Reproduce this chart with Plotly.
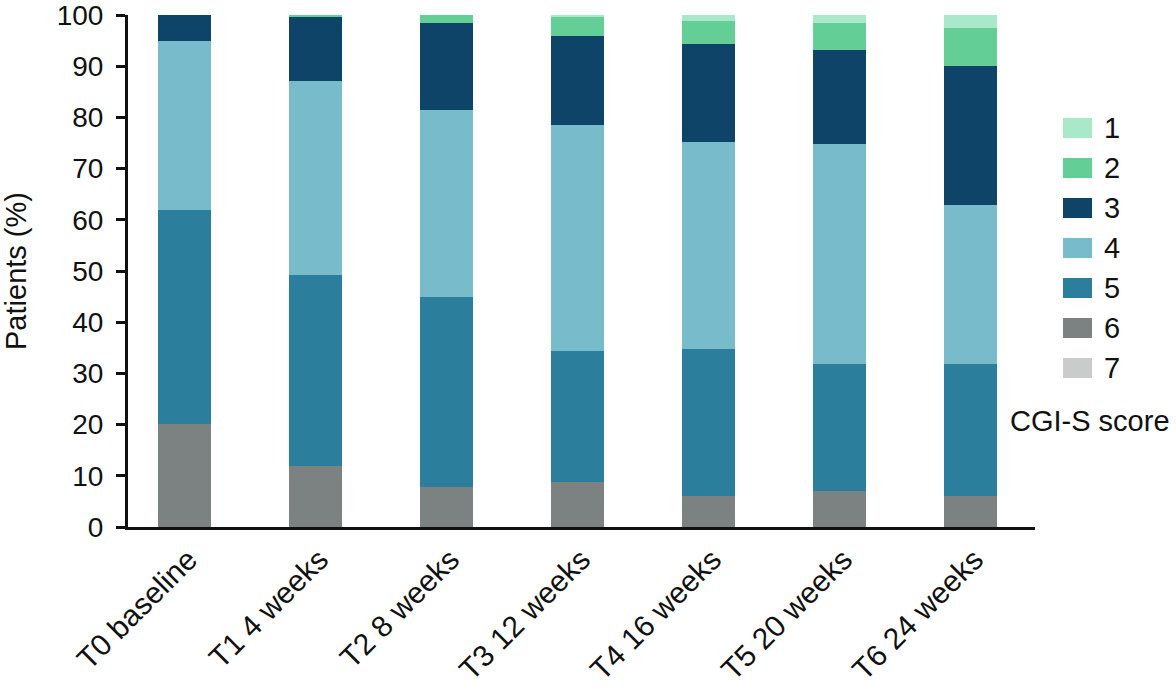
import plotly.graph_objects as go

categories = ["T0 baseline", "T1 4 weeks", "T2 8 weeks", "T3 12 weeks",
              "T4 16 weeks", "T5 20 weeks", "T6 24 weeks"]
score_labels = ["7", "6", "5", "4", "3", "2", "1"]
score7 = [0, 0, 0, 0, 0, 0, 0]
score6 = [20.2, 12.0, 7.8, 8.8, 6.0, 7.0, 6.0]
score5 = [41.8, 37.3, 37.2, 25.5, 28.8, 24.8, 25.8]
score4 = [33.0, 37.9, 36.5, 44.3, 40.4, 43.0, 31.0]
score3 = [5.0, 12.5, 16.9, 17.3, 19.2, 18.4, 27.3]
score2 = [0, 0.3, 1.6, 3.9, 4.4, 5.2, 7.4]
score1 = [0, 0, 0, 0.2, 1.2, 1.6, 2.5]
y_ticks = [0, 10, 20, 30, 40, 50, 60, 70, 80, 90, 100]

colors = {"1": "#a9e9ca", "2": "#63cf96", "3": "#0d4468", "4": "#78bccb",
          "5": "#2b7f9d", "6": "#7b8281", "7": "#cacbcb"}
series = {"7": score7, "6": score6, "5": score5, "4": score4,
          "3": score3, "2": score2, "1": score1}

FONT = "Liberation Sans, Arial, Helvetica, sans-serif"
FS = 29
FSY = 28
FSX = 30
TXT = "#111111"

fig = go.Figure()
xs = list(range(len(categories)))
for lab in score_labels:
    fig.add_trace(go.Bar(x=xs, y=series[lab], name=lab, width=0.404,
                         marker=dict(color=colors[lab], line=dict(width=0)),
                         showlegend=False))

W, H = 1176, 692
L, R, T, B = 128, 1035, 15, 527

fig.update_layout(
    width=W, height=H, barmode="stack",
    margin=dict(l=L, r=W - R, t=T, b=H - B, autoexpand=False),
    paper_bgcolor="white", plot_bgcolor="white",
    font=dict(family=FONT, size=FS, color=TXT),
)
fig.update_xaxes(
    range=[-0.431, 6.493], tickmode="array", tickvals=xs, ticktext=categories,
    tickangle=-45, showgrid=False, zeroline=False, showline=True,
    linecolor=TXT, linewidth=3, ticks="", ticklabelshift=4,
    ticklabelstandoff=0, ticklabeloverflow="allow",
    tickfont=dict(family=FONT, size=FSX, color=TXT),
)
fig.update_yaxes(
    range=[0, 100], tickmode="array", tickvals=y_ticks, showgrid=False,
    zeroline=False, showline=True, linecolor=TXT, linewidth=3,
    ticks="outside", ticklen=9, tickwidth=3, tickcolor=TXT,
    ticklabelstandoff=7, ticklabeloverflow="allow",
    tickfont=dict(family=FONT, size=FSY, color=TXT),
    title=dict(text="Patients (%)", standoff=34, font=dict(family=FONT, size=FS, color=TXT)),
)

def px2x(px):
    return (px - L) / (R - L)

def py2y(py):
    return (B - py) / (B - T)

legend_order = ["1", "2", "3", "4", "5", "6", "7"]
for i, lab in enumerate(legend_order):
    cy = 128 + 40 * i
    fig.add_shape(type="rect", xref="paper", yref="paper",
                  x0=px2x(1063), x1=px2x(1092), y0=py2y(cy + 10), y1=py2y(cy - 10),
                  fillcolor=colors[lab], line=dict(width=0))
    fig.add_annotation(xref="paper", yref="paper", x=px2x(1102), y=py2y(cy),
                       text=lab, showarrow=False, xanchor="left", yanchor="middle",
                       font=dict(size=FS, family=FONT, color=TXT))
fig.add_annotation(xref="paper", yref="paper", x=px2x(1008), y=py2y(421),
                   text="CGI-S score", showarrow=False, xanchor="left",
                   yanchor="middle", font=dict(size=FS, family=FONT, color=TXT))

fig.write_html("out.html", config={"displayModeBar": False},
               post_script="document.body.style.margin='0';document.body.style.overflow='hidden';")
